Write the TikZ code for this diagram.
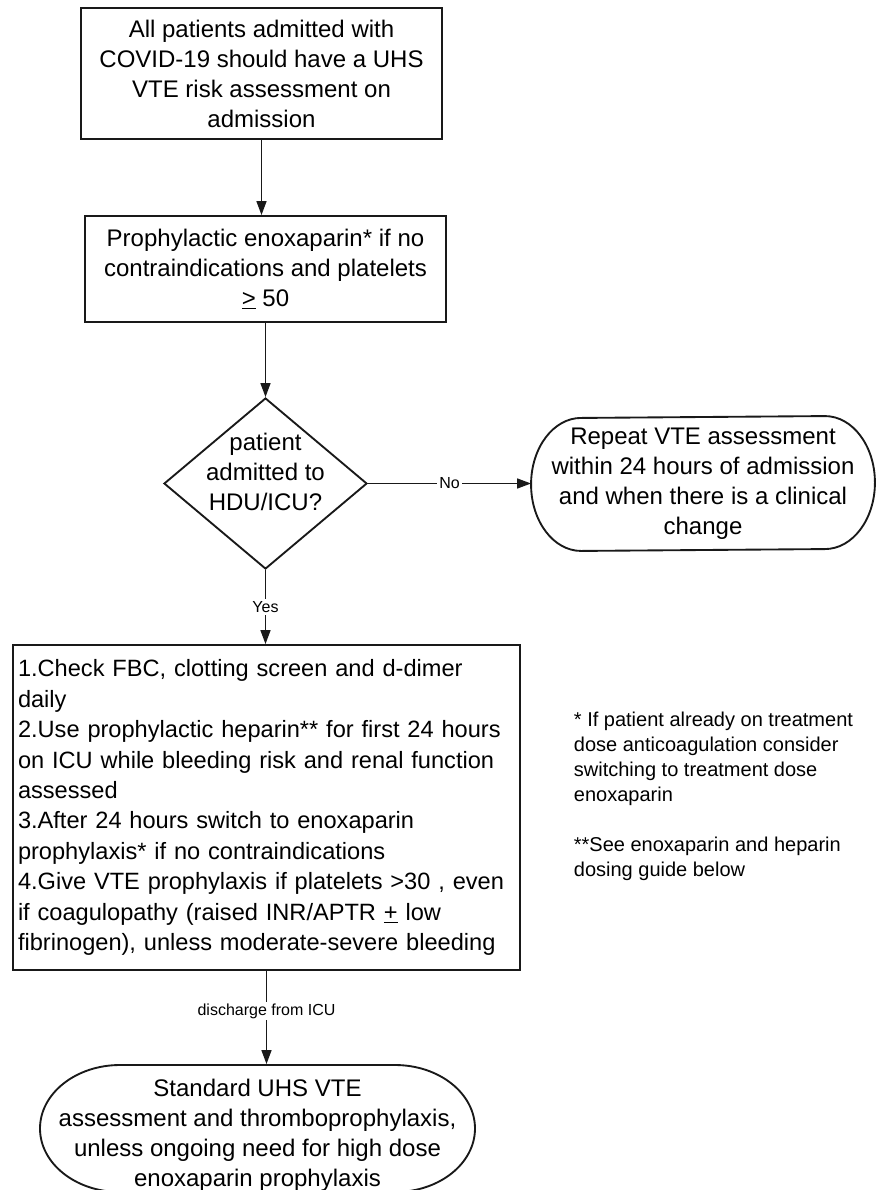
\documentclass[tikz,border=0pt]{standalone}
\usepackage{fontspec}
\setmainfont{Liberation Sans}
\usetikzlibrary{shapes.geometric,arrows.meta}
\begin{document}
\begin{tikzpicture}[x=0.75pt,y=-0.75pt,
  line width=1.4pt,
  draw=black!90,
  font=\fontsize{18}{22.5}\selectfont,
  box/.style={draw, rectangle, align=center, inner sep=0pt},
  dec/.style={draw, diamond, inner sep=0pt, minimum width=152.25pt, minimum height=128.25pt},
  term/.style={draw=none, align=center, inner sep=0pt},
  outline/.style={line join=round},
  flow/.style={-{Triangle[length=10.5pt,width=7.5pt]}, line width=1.1pt},
  lab/.style={fill=white, font=\fontsize{12}{14}\selectfont, inner sep=1.5pt},
  note/.style={align=left, font=\fontsize{15}{18.75}\selectfont, inner sep=0pt}
]
\useasboundingbox (0,0) rectangle (878,1190);
\clip (0,0) rectangle (878,1190);
\fill[white] (0,0) rectangle (878,1190);

\node[box, minimum width=270.75pt, minimum height=98.25pt] (a) at (261.5,73.5)
  {All patients admitted with\\COVID-19 should have a UHS\\VTE risk assessment on\\admission};
\node[box, minimum width=270.75pt, minimum height=79.5pt] (b) at (265.5,269)
  {Prophylactic enoxaparin* if no\\contraindications and platelets\\\underline{>} 50};
\node[dec] (d) at (265.5,483.5) {};
\node[align=center, inner sep=0pt] (dt) at (265.5,472) {patient\\admitted to\\HDU/ICU?};

\node[term, minimum width=256.5pt, minimum height=99.75pt] (r) at (703,483.5)
  {Repeat VTE assessment\\within 24 hours of admission\\and when there is a clinical\\change};
\draw[outline] ([xshift=-37.5pt]r.north east)
  arc[start angle=90,end angle=-90,x radius=37.5pt,y radius=49.875pt]
  -- ([xshift=37.5pt]r.south west)
  arc[start angle=270,end angle=90,x radius=37.5pt,y radius=49.875pt]
  -- cycle;

\node[box, align=left, text width=372.75pt, minimum height=243.75pt, inner xsep=3.75pt,
  font=\fontsize{17.7}{22.8}\selectfont] (c) at (266.5,807.5)
  {1.Check FBC, clotting screen and d-dimer\\
   daily\\
   2.Use prophylactic heparin** for first 24 hours\\
   on ICU while bleeding risk and renal function\\
   assessed\\
   3.After 24 hours switch to enoxaparin\\
   prophylaxis* if no contraindications\\
   4.Give VTE prophylaxis if platelets >30 , even\\
   if coagulopathy (raised INR/APTR \underline{+} low\\
   fibrinogen), unless moderate-severe bleeding};

\node[note, anchor=west] (n) at (573,796)
  {* If patient already on treatment\\dose anticoagulation consider\\switching to treatment dose\\enoxaparin\\[18.75pt]{}**See enoxaparin and heparin\\dosing guide below};

\node[term, minimum width=326.25pt, minimum height=105pt] (e) at (257.5,1135)
  {Standard UHS VTE\\assessment and thromboprophylaxis,\\unless ongoing need for high dose\\enoxaparin prophylaxis};
\draw[outline] (395,1065)
  arc[start angle=90,end angle=-90,x radius=60pt,y radius=47.625pt]
  -- (120,1192)
  arc[start angle=270,end angle=90,x radius=60pt,y radius=47.625pt]
  -- cycle;

\draw[flow] (a.south) -- (a.south |- b.north);
\draw[flow] (b.south) -- (d.north);
\draw[flow] (d.east) -- node[lab]{No} (r.west);
\draw[flow] (d.south) -- node[lab]{Yes} (d.south |- c.north);
\draw[flow] (c.south) -- node[lab, pos=0.43]{discharge from ICU} (c.south |- e.north);
\end{tikzpicture}
\end{document}
